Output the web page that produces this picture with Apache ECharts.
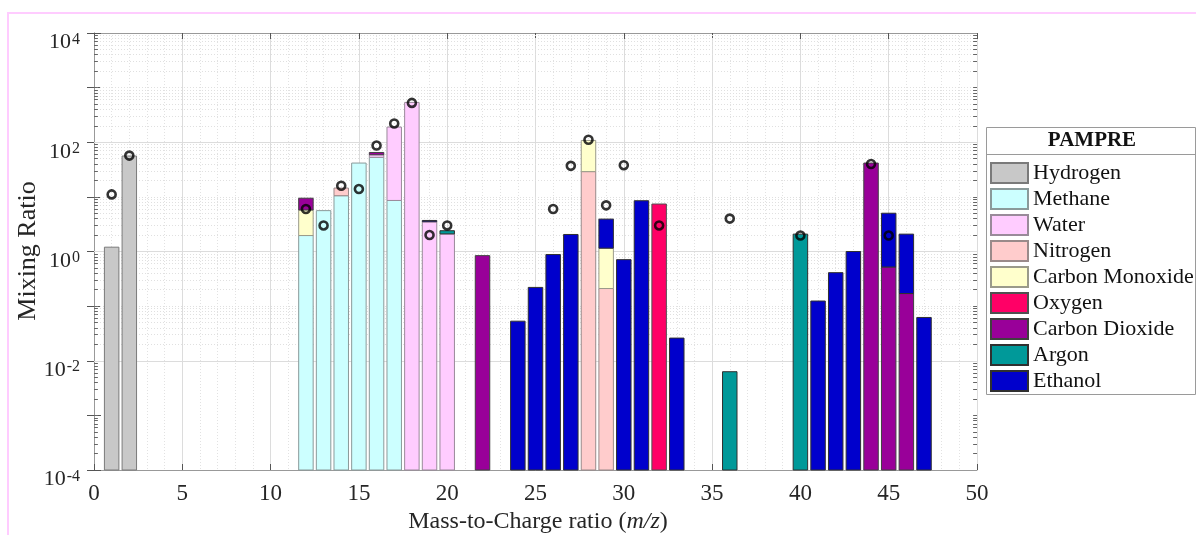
<!DOCTYPE html>
<html><head><meta charset="utf-8">
<script src="https://cdn.jsdelivr.net/npm/echarts@6/dist/echarts.min.js"></script>
<style>html,body{margin:0;padding:0;background:#fff}#c{width:1196px;height:535px}</style>
</head><body><div id="c"></div>
<script>
const _ = null;
// m/z positions (x categories placed on a value axis)
const mz = [1,2,12,13,14,15,16,17,18,19,20, 22,24,25,26,27,28,29,30,31,32,33, 36,40,41,42,43,44,45,46,47];
//                 1    2    12    13   14    15    16  17   18   19   20 | 22   24    25   26   27   28  29    30   31  32   33   | 36     40   41    42   43   44    45   46   47
const hydrogen =  [1.2, 56,  _,    _,   _,    _,    _,  _,   _,   _,   _,   _,   _,    _,   _,   _,   _,  _,    _,   _,  _,   _,     _,     _,   _,    _,   _,   _,    _,   _,   _];
const methane =   [_,   _,   1.96, 5.6, 10.5, 41.6, 53, 8.6, _,   _,   _,   _,   _,    _,   _,   _,   _,  _,    _,   _,  _,   _,     _,     _,   _,    _,   _,   _,    _,   _,   _];
const water =     [_,   _,   _,    _,   _,    _,    6,  181, 536, 3.5, 2.1, _,   _,    _,   _,   _,   _,  _,    _,   _,  _,   _,     _,     _,   _,    _,   _,   _,    _,   _,   _];
const nitrogen =  [_,   _,   _,    _,   4.0,  _,    _,  _,   _,   _,   _,   _,   _,    _,   _,   _,   29, 0.21, _,   _,  _,   _,     _,     _,   _,    _,   _,   _,    _,   _,   _];
const carbonMonoxide = [_, _, 3.8, _,   _,    _,    _,  _,   _,   _,   _,   _,   _,    _,   _,   _,   79, 0.94, _,   _,  _,   _,     _,     _,   _,    _,   _,   _,    _,   _,   _];
const oxygen =    [_,   _,   _,    _,   _,    _,    _,  _,   _,   _,   _,   _,   _,    _,   _,   _,   _,  _,    _,   _,  7.4, _,     _,     _,   _,    _,   _,   _,    _,   _,   _];
const carbonDioxide = [_, _, 3.7,  _,   _,    _,    6,  _,   _,   _,   _,   0.84,_,    _,   _,   _,   _,  _,    _,   _,  _,   _,     _,     _,   _,    _,   _,   41.6, 0.52,0.17,_];
const argon =     [_,   _,   _,    _,   _,    _,    _,  _,   _,   _,   0.3, _,   _,    _,   _,   _,   _,  _,    _,   _,  _,   _,     0.0063,2.08,_,    _,   _,   _,    _,   _,   _];
const ethanol =   [_,   _,   _,    _,   _,    _,    _,  _,   _,   0.2, _,   _,   0.053,0.22,0.88,2.05,_,  2.77, 0.71,8.5,_,   0.026, _,     _,   0.124,0.41,1.0, _,    4.5, 1.91,0.062];

// measured (open circles)
const circleX = [1, 2, 12, 13, 14, 15, 16, 17, 18, 19, 20, 26, 27, 28, 29, 30, 32, 36, 40, 44, 45];
const circleY = [11.1, 57, 6.0, 3.0, 16.0, 13.9, 87, 221, 525, 2.0, 3.0, 6.0, 37, 111, 7.0, 38, 3.0, 4.0, 1.96, 40, 1.96];

const gases = ['Hydrogen','Methane','Water','Nitrogen','Carbon Monoxide','Oxygen','Carbon Dioxide','Argon','Ethanol'];
const gasValues = [hydrogen, methane, water, nitrogen, carbonMonoxide, oxygen, carbonDioxide, argon, ethanol];
const gasColors = ['#c8c8c8','#ccffff','#ffccff','#ffcccc','#ffffcc','#ff0066','#990099','#009999','#0000cc'];
const gasBorders = ['#7a7a7a','#8a9a9a','#9a8a9a','#9a8a8a','#9a9a8a','#505050','#404040','#303030','#303030'];

const YMIN = 1e-4, YMAX = 1e4;
const XMIN = 0, XMAX = 50, XSTEP = 5;
const BAR_HALF = 0.41;
const SERIF = 'Liberation Serif';

function renderBar(params, api) {
  const x = api.value(0), lo = api.value(1), hi = api.value(2);
  const a = api.coord([x - BAR_HALF, hi]);
  const b = api.coord([x + BAR_HALF, lo]);
  return { type: 'rect', shape: { x: a[0], y: a[1], width: b[0] - a[0], height: b[1] - a[1] }, style: api.style() };
}

const running = mz.map(() => 0);
const barSeries = gases.map((name, g) => {
  const data = [];
  mz.forEach((x, i) => {
    const v = gasValues[g][i];
    if (v == null) return;
    const lo = running[i] > 0 ? running[i] : YMIN;
    running[i] += v;
    data.push([x, lo, running[i]]);
  });
  return {
    name, type: 'custom', renderItem: renderBar, encode: { x: 0, y: [1, 2] },
    itemStyle: { color: gasColors[g], borderColor: gasBorders[g], borderWidth: 1 },
    data, z: 2, silent: true
  };
});

// log grid lines and minor ticks
const markData = [];
for (let d = -4; d <= 4; d++) {
  const base = Math.pow(10, d);
  const vals = [];
  if (d % 2 === 0) {
    if (d > -4 && d < 4) markData.push({ yAxis: base, lineStyle: { color: '#dcdcdc', type: 'solid', width: 1 } });
  } else vals.push(base);
  if (d < 4) for (let k = 2; k <= 9; k++) vals.push(k * base);
  vals.forEach(v => {
    markData.push({ yAxis: v, lineStyle: { color: '#e0e0e0', type: [1, 2], width: 1 } });
    markData.push([{ coord: [XMIN, v], lineStyle: { color: '#666', type: 'solid', width: 1 } }, { coord: [XMIN + 0.22, v] }]);
    markData.push([{ coord: [XMAX - 0.22, v], lineStyle: { color: '#666', type: 'solid', width: 1 } }, { coord: [XMAX, v] }]);
  });
}

const chart = echarts.init(document.getElementById('c'), null, { renderer: 'canvas' });
const yLabelFmt = v => {
  const e = Math.round(Math.log10(v));
  return e % 2 === 0 ? '{b|10}{s|' + e + '}' : '';
};
chart.setOption({
  animation: false,
  backgroundColor: '#fff',
  grid: { left: 94, right: 219, top: 33, bottom: 65 },
  xAxis: [{
    type: 'value', min: XMIN, max: XMAX, interval: XSTEP, position: 'bottom',
    axisLine: { lineStyle: { color: '#999' } },
    axisTick: { inside: true, length: 6, lineStyle: { color: '#555' } },
    axisLabel: { fontFamily: SERIF, fontSize: 23, color: '#262626', margin: 12 },
    splitLine: { show: true, lineStyle: { color: '#dcdcdc', width: 1 } },
    minorTick: { show: false, splitNumber: 5 },
    minorSplitLine: { show: true, lineStyle: { color: '#e2e2e2', type: [1, 2] } }
  }, {
    type: 'value', min: XMIN, max: XMAX, interval: XSTEP, position: 'top',
    axisLine: { lineStyle: { color: '#999' } },
    axisTick: { inside: true, length: 6, lineStyle: { color: '#555' } },
    axisLabel: { show: false }, splitLine: { show: false }
  }],
  yAxis: [{
    type: 'log', logBase: 10, min: YMIN, max: YMAX, position: 'left',
    axisLine: { show: true, lineStyle: { color: '#999' } },
    axisTick: { show: true, inside: true, length: 7, lineStyle: { color: '#555' } },
    splitLine: { show: false },
    axisLabel: {
      formatter: yLabelFmt, margin: 14, padding: [19, 0, 0, 0],
      rich: {
        b: { fontFamily: SERIF, fontSize: 22, color: '#262626', lineHeight: 22, verticalAlign: 'bottom' },
        s: { fontFamily: SERIF, fontSize: 16, color: '#262626', lineHeight: 16, verticalAlign: 'top', padding: [0, 0, 10, 1] }
      }
    }
  }, {
    type: 'log', logBase: 10, min: YMIN, max: YMAX, position: 'right',
    axisLine: { show: true, lineStyle: { color: '#999' } },
    axisTick: { show: true, inside: true, length: 7, lineStyle: { color: '#555' } },
    splitLine: { show: false }, axisLabel: { show: false }
  }],
  legend: {
    data: gases, orient: 'vertical', left: 990, top: 162, icon: 'rect',
    itemWidth: 37, itemHeight: 20, itemGap: 4, padding: 0, selectedMode: false,
    textStyle: { fontFamily: SERIF, fontSize: 22, color: '#111', lineHeight: 20 }
  },
  series: barSeries.concat([{
    name: 'measured', type: 'scatter', z: 5, silent: true,
    data: circleX.map((x, i) => [x, circleY[i]]),
    symbol: 'circle', symbolSize: 8,
    itemStyle: { color: 'rgba(0,0,0,0)', borderColor: '#000', borderWidth: 2.6 },
    markLine: { silent: true, z: 1, symbol: ['none', 'none'], label: { show: false }, animation: false, data: markData }
  }]),
  graphic: [
    { type: 'rect', silent: true, z: 100, shape: { x: 8, y: 13, width: 1300, height: 700 }, style: { fill: 'none', stroke: '#ffccff', lineWidth: 2 } },
    { type: 'rect', silent: true, z: 100, shape: { x: 986.5, y: 127.5, width: 209, height: 267 }, style: { fill: 'none', stroke: '#9a9a9a', lineWidth: 1 } },
    { type: 'line', silent: true, z: 100, shape: { x1: 986.5, y1: 154.5, x2: 1195.5, y2: 154.5 }, style: { stroke: '#9a9a9a', lineWidth: 1 } },
    { type: 'text', silent: true, z: 100, x: 1092, y: 141, style: { text: 'PAMPRE', fontFamily: SERIF, fontWeight: 'bold', fontSize: 21, fill: '#111', align: 'center', verticalAlign: 'middle' } },
    { type: 'text', silent: true, z: 100, x: 28, y: 251, rotation: Math.PI / 2, style: { text: 'Mixing Ratio', fontFamily: SERIF, fontSize: 26, fill: '#262626', align: 'center', verticalAlign: 'middle' } },
    { type: 'text', silent: true, z: 100, x: 538, y: 522, style: {
        text: '{n|Mass-to-Charge ratio (}{i|m/z}{n|)}', align: 'center', verticalAlign: 'middle',
        rich: { n: { fontFamily: SERIF, fontSize: 24, fill: '#262626' }, i: { fontFamily: SERIF, fontSize: 24, fontStyle: 'italic', fill: '#262626' } } } }
  ]
});
</script>
</body></html>
